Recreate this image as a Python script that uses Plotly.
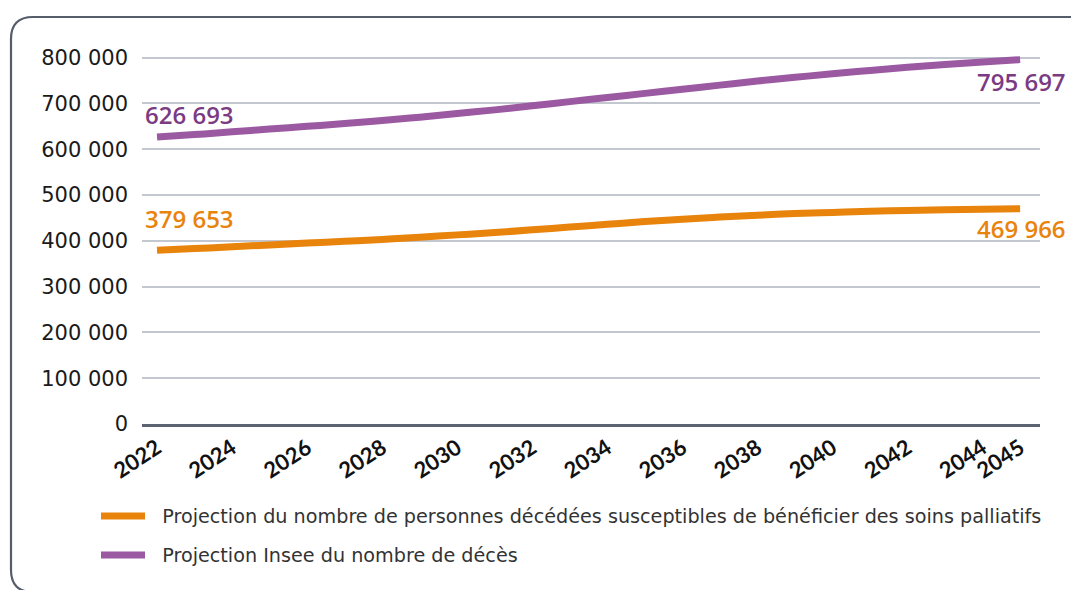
import plotly.graph_objects as go

years = list(range(2022, 2046))
insee_deces = [626693, 632000, 638000, 644000, 650000, 656000, 663000, 670000,
               678000, 686000, 695000, 704000, 713000, 722000, 731000, 740000,
               749000, 757000, 765000, 772000, 779000, 785000, 790500, 795697]
soins_palliatifs = [379653, 383000, 387000, 391000, 395000, 399000, 403000, 408000,
                    413000, 418000, 424000, 430000, 436000, 442000, 447000, 452000,
                    456000, 459500, 462000, 464500, 466500, 468000, 469200, 469966]

series_names = ["Projection du nombre de personnes décédées susceptibles de bénéficier des soins palliatifs",
                "Projection Insee du nombre de décès"]
x_tickvals = [2022, 2024, 2026, 2028, 2030, 2032, 2034, 2036, 2038, 2040, 2042, 2044, 2045]
x_ticktext = [str(v) for v in x_tickvals]
y_tickvals = [0, 100000, 200000, 300000, 400000, 500000, 600000, 700000, 800000]
y_ticktext = ["0", "100 000", "200 000", "300 000", "400 000", "500 000",
              "600 000", "700 000", "800 000"]

ORANGE = "#e8830c"
PURPLE = "#9b59a2"
PURPLE_TXT = "#7b3b83"
NBSP = "\u00a0"


def fmt(v):
    return f"{v:,}".replace(",", " ")


OFF = 8  # page body margin
W, H = 1071, 582
ML, MR, MT, MB = 134, 39, 46, 166
PW, PH = W - ML - MR, H - MT - MB


def px(x):
    return (x - OFF - ML) / PW


def py(y):
    return (H - MB - (y - OFF)) / PH


fig = go.Figure()
fig.add_trace(go.Scatter(x=years, y=soins_palliatifs, mode="lines", name=NBSP * 2 + series_names[0],
                         line=dict(color=ORANGE, width=7, shape="spline"),
                         legendgroup="a", hoverinfo="skip"))
fig.add_trace(go.Scatter(x=years, y=insee_deces, mode="lines", name=NBSP * 2 + series_names[1],
                         line=dict(color=PURPLE, width=7, shape="spline"),
                         legendgroup="b", hoverinfo="skip"))

label_font = dict(family="Open Sans", size=24, weight=600)
fig.add_annotation(x=years[0], y=insee_deces[0], text=fmt(insee_deces[0]), showarrow=False,
                   xanchor="left", yanchor="bottom", xshift=-14, yshift=4,
                   font=dict(color=PURPLE_TXT, **label_font))
fig.add_annotation(x=years[0], y=soins_palliatifs[0], text=fmt(soins_palliatifs[0]), showarrow=False,
                   xanchor="left", yanchor="bottom", xshift=-14, yshift=13,
                   font=dict(color=ORANGE, **label_font))
fig.add_annotation(x=years[-1], y=insee_deces[-1], text=fmt(insee_deces[-1]), showarrow=False,
                   xanchor="right", yanchor="top", xshift=48, yshift=-3,
                   font=dict(color=PURPLE_TXT, **label_font))
fig.add_annotation(x=years[-1], y=soins_palliatifs[-1], text=fmt(soins_palliatifs[-1]), showarrow=False,
                   xanchor="right", yanchor="top", xshift=48, yshift=-1,
                   font=dict(color=ORANGE, **label_font))

# rounded frame
l, t, r, b = px(11), py(17), px(1094), py(592)
rx = 22 / PW
ry = 22 / PH
path = (f"M {l},{b + ry} L {l},{t - ry} Q {l},{t} {l + rx},{t} "
        f"L {r - rx},{t} Q {r},{t} {r},{t - ry} L {r},{b + ry} "
        f"Q {r},{b} {r - rx},{b} L {l + rx},{b} Q {l},{b} {l},{b + ry} Z")
fig.add_shape(type="path", xref="paper", yref="paper", path=path,
              line=dict(color="#555d6b", width=2.2), layer="below")

fig.update_layout(
    width=W, height=H,
    margin=dict(l=ML, r=MR, t=MT, b=MB),
    paper_bgcolor="white", plot_bgcolor="white",
    showlegend=True,
    legend=dict(x=px(96), y=py(497), xanchor="left", yanchor="top",
                font=dict(family="DejaVu Sans", size=19.2, color="#333333"),
                tracegroupgap=11, itemwidth=44, bgcolor="rgba(0,0,0,0)"),
    xaxis=dict(range=[2021.6, 2045.53], tickvals=x_tickvals, ticktext=x_ticktext,
               tickangle=-33, showgrid=False, zeroline=False,
               showline=True, linecolor="#5b6372", linewidth=2.5,
               ticks="", tickfont=dict(family="Lato", size=22, color="#111111", weight="bold")),
    yaxis=dict(range=[0, 808000], tickvals=y_tickvals, ticktext=y_ticktext,
               showgrid=True, gridcolor="#c3c7d0", gridwidth=1.5, zeroline=False,
               ticks="", ticklen=0, ticklabelstandoff=13,
               tickfont=dict(family="DejaVu Sans", size=21, color="#1a1a1a")),
)

fig.write_html("out.html")
